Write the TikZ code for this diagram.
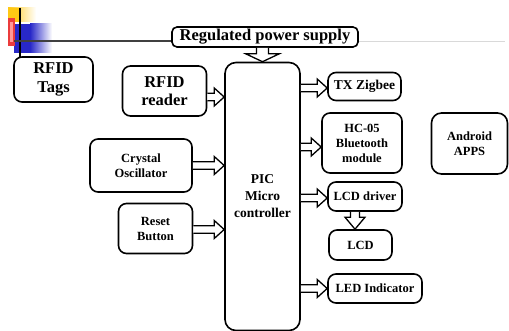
\documentclass[tikz,border=0pt]{standalone}
\usepackage{fontspec}
\setmainfont{Liberation Serif}
\usetikzlibrary{calc}
\definecolor{decoyellow}{RGB}{255,200,20}
\definecolor{decored}{RGB}{235,60,60}
\definecolor{decoblue}{RGB}{40,40,200}
\tikzset{
  box/.style={draw=black, line width=1.6pt, rounded corners=8pt, align=center, inner sep=0pt, font=\bfseries\fontsize{12.5}{15}\selectfont},
  bigbox/.style={box, font=\bfseries\fontsize{16.5}{18.5}\selectfont},
  arrowline/.style={draw=black, fill=white, line width=1.3pt, line join=miter},
}
% from, to, shaft half width, head half width, head length
\newcommand{\blkx}[5]{%
  \path #1 coordinate (bs) #2 coordinate (bt);
  \path ($(bt)!#5!(bs)$) coordinate (bh);
  \draw[arrowline] ($(bs)!#3!90:(bt)$) -- ($(bh)!#3!90:(bt)$) -- ($(bh)!#4!90:(bt)$) -- (bt)
    -- ($(bh)!#4!-90:(bt)$) -- ($(bh)!#3!-90:(bt)$) -- ($(bs)!#3!-90:(bt)$);
}
\newcommand{\blk}[2]{\blkx{#1}{#2}{3.8pt}{9pt}{10pt}}
\begin{document}
\begin{tikzpicture}[x=1pt,y=-1pt]
\useasboundingbox (0,0) rectangle (509,331);
% slide decoration
\shade[left color=decoyellow, right color=white] (8,8) rectangle (36,22);
\fill[decoyellow] (8,8) rectangle (20,22);
\shade[left color=decoblue, right color=white] (30,24) rectangle (52,53);
\fill[decoblue] (14,24) rectangle (30,53);
\fill[decored] (8,18) rectangle (15,46);
\fill[red!40!white] (10,22) rectangle (13,42);
\draw[line width=1.4pt] (20,8) coordinate (vtop) -- (20,57) coordinate (vbot);
\coordinate (hl) at (14,41);
\coordinate (hr) at (505,42);
% nodes
\node[box, minimum width=186pt, minimum height=20pt, rounded corners=5pt, font=\bfseries\fontsize{16.5}{18}\selectfont] (ps) at (265,37) {Regulated power supply};
\draw[line width=1.3pt, black!75] (hl) -- (ps.west |- hl);
\draw[line width=1pt, black!15] (ps.east |- hr) -- (hr);
\node[bigbox, minimum width=79pt, minimum height=45pt] (tags) at (53.5,79.5) {RFID\\Tags};
\node[bigbox, minimum width=84pt, minimum height=50pt] (reader) at (164.5,91) {RFID\\reader};
\node[box, minimum width=75pt, minimum height=268pt, rounded corners=11pt, font=\bfseries\fontsize{13.5}{17}\selectfont] (pic) at (262.5,196.5) {PIC\\Micro\\controller};
\node[box, minimum width=102pt, minimum height=53pt] (xtal) at (141,165.5) {Crystal\\Oscillator};
\node[box, minimum width=74pt, minimum height=50pt] (reset) at (155.5,228.5) {Reset\\Button};
\node[box, minimum width=73pt, minimum height=28pt, font=\bfseries\fontsize{13.5}{16}\selectfont] (tx) at (364.5,86.5) {TX Zigbee};
\node[box, minimum width=80pt, minimum height=60pt] (hc) at (362,143) {HC-05\\Bluetooth\\module};
\node[box, minimum width=76pt, minimum height=61pt, rounded corners=10pt] (android) at (469.5,143.5) {Android\\APPS};
\node[box, minimum width=74pt, minimum height=29pt] (lcddrv) at (365,196.5) {LCD driver};
\node[box, minimum width=63pt, minimum height=30pt] (lcd) at (360.5,245) {LCD};
\node[box, minimum width=94pt, minimum height=29pt] (led) at (375,288.5) {LED Indicator};
% arrows
\blkx{(pic.north |- ps.south)}{(pic.north)}{6pt}{17pt}{8pt}
\blk{([yshift=-6pt]reader.east)}{([yshift=-6pt]reader.east -| pic.west)}
\blk{(xtal.east)}{(xtal.east -| pic.west)}
\blk{([yshift=-1pt]reset.east)}{([yshift=-1pt]reset.east -| pic.west)}
\blk{([yshift=-1.5pt]tx.west -| pic.east)}{([yshift=-1.5pt]tx.west)}
\blk{([yshift=-4pt]hc.west -| pic.east)}{([yshift=-4pt]hc.west)}
\blk{([yshift=-1.5pt]lcddrv.west -| pic.east)}{([yshift=-1.5pt]lcddrv.west)}
\blk{(led.west -| pic.east)}{(led.west)}
\blkx{([xshift=-10pt]lcddrv.south)}{([xshift=-10pt]lcddrv.south |- lcd.north)}{4.5pt}{10pt}{12pt}
\end{tikzpicture}
\end{document}
